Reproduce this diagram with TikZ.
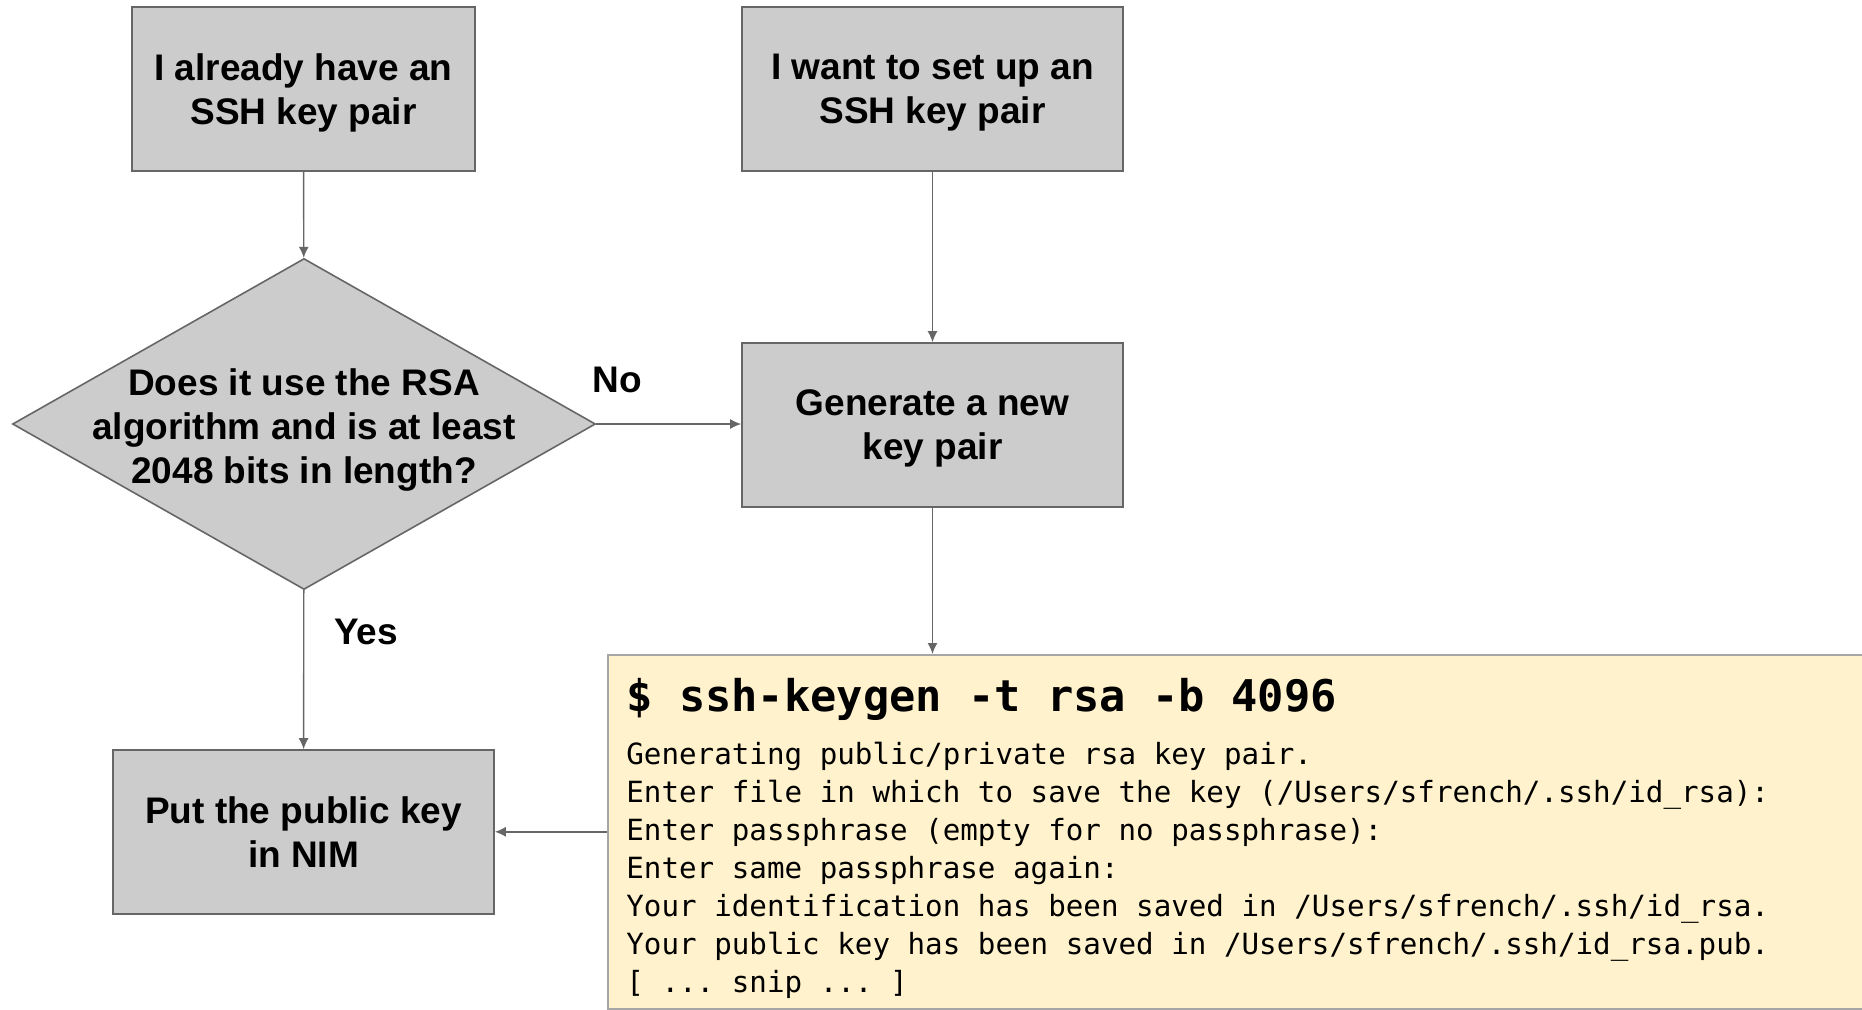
\documentclass[tikz,border=0pt]{standalone}
\usepackage{fontspec}
\setmainfont{Liberation Sans}
\setmonofont{DejaVu Sans Mono}
\usetikzlibrary{shapes.geometric,arrows.meta}
\definecolor{boxgray}{HTML}{CCCCCC}
\definecolor{edgegray}{HTML}{666666}
\definecolor{codeyellow}{HTML}{FFF2CC}
\definecolor{codeedge}{HTML}{A6A6A6}
\begin{document}
\begin{tikzpicture}[x=0.5pt,y=-0.5pt,
    steptext/.style={align=center, text depth=0pt, font=\bfseries\fontsize{18.5}{22}\selectfont},
    stepbox/.style={steptext, draw=edgegray, fill=boxgray, line width=0.8pt,
      minimum width=190.5pt, minimum height=82pt},
    decision/.style={diamond, draw=edgegray, fill=boxgray, line width=0.8pt,
      inner sep=0pt, minimum width=291.5pt, minimum height=165.5pt},
    codebox/.style={draw=codeedge, fill=codeyellow, line width=0.8pt, inner sep=0pt,
      anchor=north west, minimum width=700pt, minimum height=177pt},
    flow/.style={draw=edgegray, line width=0.7pt, -{Latex[length=5.5pt,width=5pt]}}]
  \useasboundingbox (0,0) rectangle (1862,1009);
  \clip (0,0) rectangle (1862,1009);

  % boxes
  \node[stepbox, minimum width=171.5pt] (have) at (303.5,89) {I already have an\\SSH key pair};
  \node[stepbox] (want) at (932.5,89) {I want to set up an\\SSH key pair};
  \node[decision] (check) at (304,424) {};
  \node[steptext] (question) at (304,426) {Does it use the RSA\\algorithm and is at least\\2048 bits in length?};
  \node[stepbox] (generate) at (932.5,425) {Generate a new\\key pair};
  \node[stepbox] (put) at (303.5,832) {Put the public key\\in NIM};

  % terminal output
  \node[codebox] (keygen) at (607,654) {};
  \node[anchor=base west, inner sep=0pt, font=\ttfamily\bfseries\fontsize{21.85}{26}\selectfont]
    (command) at (626,711) {\$ ssh-keygen -t rsa -b 4096};
  \node[anchor=base west, inner sep=0pt, font=\ttfamily\fontsize{14.6}{19}\selectfont] (output) at (626,764) {%
    \begin{tabular}[t]{@{}l@{}}
      Generating public/private rsa key pair.\\
      Enter file in which to save the key (/Users/sfrench/.ssh/id\_rsa):\\
      Enter passphrase (empty for no passphrase):\\
      Enter same passphrase again:\\
      Your identification has been saved in /Users/sfrench/.ssh/id\_rsa.\\
      Your public key has been saved in /Users/sfrench/.ssh/id\_rsa.pub.\\
      {[} ... snip ... ]
    \end{tabular}};

  % labels
  \node[steptext] (no) at (617.5,380) {No};
  \node[steptext] (yes) at (366,632) {Yes};

  % arrows
  \draw[flow] (have) -- (check);
  \draw[flow] (want) -- (generate);
  \draw[flow] (check.east) -- (check.east -| generate.west);
  \draw[flow] (generate) -- (generate |- keygen.north);
  \draw[flow] (check) -- (put);
  \draw[flow] (keygen.west) -- (keygen.west -| put.east);
\end{tikzpicture}
\end{document}
